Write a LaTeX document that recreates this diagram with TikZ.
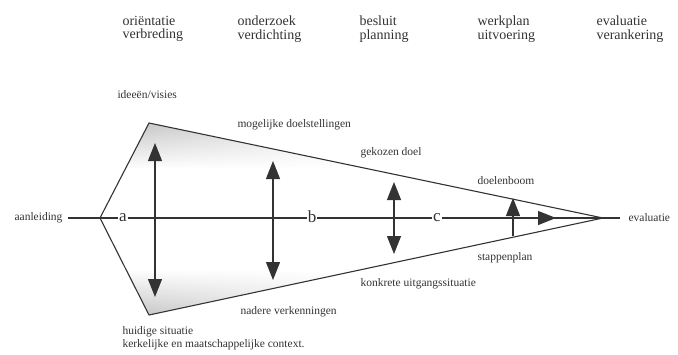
\documentclass[tikz,border=0pt]{standalone}
\usepackage{fontspec}
\setmainfont{Liberation Serif}
\usetikzlibrary{arrows.meta,fadings}
\pgfdeclareverticalshading{kiteshade}{100bp}{color(0bp)=(gray!50); color(25bp)=(gray!50); color(37bp)=(white); color(63bp)=(white); color(75bp)=(gray!50); color(100bp)=(gray!50)}

\begin{document}
\begin{tikzpicture}[>={Triangle[width=14pt,length=18pt]}, line width=1.1pt, x=1pt, y=-1pt, color=black!80,
  every node/.style={inner sep=0pt},
  head/.style={align=left, anchor=west, font=\fontsize{14}{13.5}\selectfont},
  lbl/.style={anchor=west, align=left, font=\fontsize{11.5}{13}\selectfont},
  letter/.style={fill=white, inner sep=1pt, font=\fontsize{17}{17}\selectfont}]
  \useasboundingbox (0,0) rectangle (678,354);
  \foreach \x/\ta/\tb [count=\i] in {122/oriëntatie/verbreding, 237/onderzoek/verdichting, 359/besluit/planning, 477/werkplan/uitvoering, 596/evaluatie/verankering}
    \node[head] (head\i) at (\x,29) {\ta\\\tb};
  \coordinate (L) at (100,218);
  \coordinate (T) at (149,123);
  \coordinate (A) at (603,218);
  \coordinate (B) at (149,315);
  \begin{scope}
    \clip (L) -- (T) -- (A) -- (B) -- cycle;
    \shade[shading=kiteshade, path fading=east] (100,123) rectangle (440,315);
  \end{scope}
  \draw[line join=miter] (L) -- (T) -- (A) -- (B) -- cycle;
  \node[lbl, anchor=east] (start) at (63,218) {aanleiding};
  \node[lbl] (end) at (628,218) {evaluatie};
  \draw ([xshift=5pt]start.east) -- ([xshift=-8pt]end.west);
  \node[letter] (a) at (123,218) {a};
  \node[letter] (b) at (312,217) {b};
  \node[letter] (c) at (437,218) {c};
  \foreach \x/\yt/\yb [count=\i] in {155/143/297, 273/161/280, 394/182/254}
    \draw[<->] (\x,\yt) coordinate (up\i) -- (\x,\yb) coordinate (down\i);
  \draw[->] (513,236) coordinate (base4) -- (513,198) coordinate (up4);
  \draw[->] (520,218) -- (556,218) coordinate (tip);
  \node[lbl] (ideeen) at (117,95) {ideeën/visies};
  \node[lbl] (doelst) at (237,125) {mogelijke doelstellingen};
  \node[lbl] (doel) at (360,153) {gekozen doel};
  \node[lbl] (boom) at (477,181) {doelenboom};
  \node[lbl] (stappen) at (477,258) {stappenplan};
  \node[lbl] (konkreet) at (360,284) {konkrete uitgangssituatie};
  \node[lbl] (nadere) at (240,312) {nadere verkenningen};
  \node[lbl] (huidig) at (122,338.5) {huidige situatie\\kerkelijke en maatschappelijke context.};
\end{tikzpicture}
\end{document}
